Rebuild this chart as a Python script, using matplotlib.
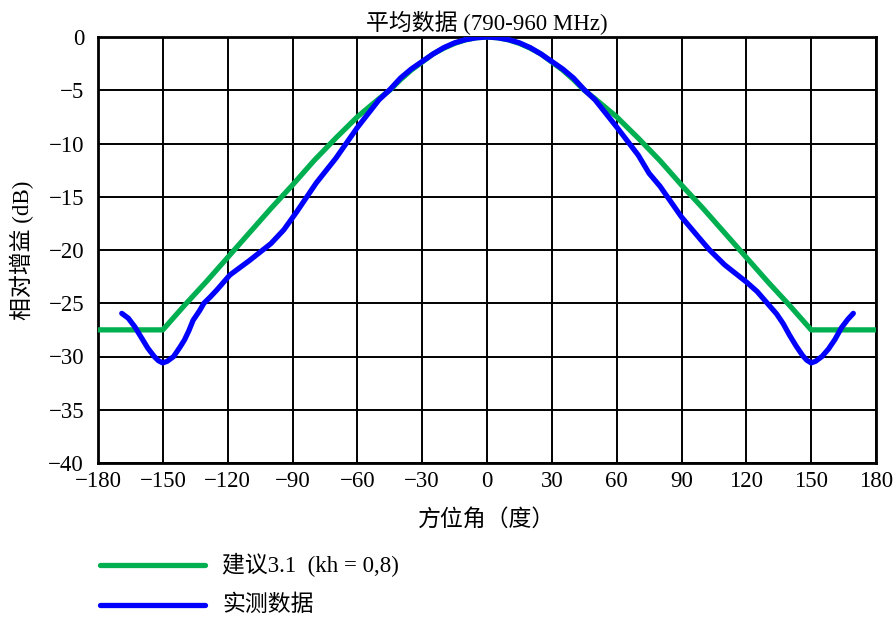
import matplotlib
matplotlib.use("Agg")
import matplotlib.pyplot as plt
from matplotlib.lines import Line2D

plt.rcParams['font.family'] = ['Liberation Serif', 'Noto Sans CJK SC', 'DejaVu Sans']
plt.rcParams['axes.unicode_minus'] = True

# Recommendation 3.1 (kh = 0.8) curve
rec_angles = [-180, -150, -140, -130, -120, -110, -100, -90, -80, -70, -60, -50, -45, -40, -35, -30, -25, -20, -15, -10, -5, 0,
              5, 10, 15, 20, 25, 30, 35, 40, 45, 50, 60, 70, 80, 90, 100, 110, 120, 130, 140, 150, 180]
rec_gain = [-27.5, -27.5, -25.2, -23.0, -20.7, -18.4, -16.1, -13.9, -11.6, -9.5, -7.5, -5.8, -5.0, -4.0, -3.1, -2.35, -1.6,
            -1.05, -0.6, -0.27, -0.07, 0.0,
            -0.07, -0.27, -0.6, -1.05, -1.6, -2.35, -3.1, -4.0, -5.0, -5.8, -7.5, -9.5, -11.6, -13.9, -16.1, -18.4, -20.7,
            -23.0, -25.2, -27.5, -27.5]

# Measured data
meas_angles = [-169, -166, -163, -160, -157, -154, -152, -150, -148, -145, -142, -140, -138, -136, -133, -131, -128, -125,
               -119, -114, -110, -105, -100, -94, -88, -79, -70, -60, -50, -45, -40, -35, -30, -25, -20, -15, -10, -5, 0,
               5, 10, 15, 20, 25, 30, 35, 40, 45, 50, 60, 70, 75, 80, 90, 100, 103, 110, 115, 120, 125, 128, 131, 134, 137,
               140, 143, 146, 148, 150, 152, 155, 158, 161, 164, 167, 169.5]
meas_gain = [-25.95, -26.4, -27.2, -28.2, -29.2, -30.0, -30.4, -30.6, -30.45, -30.0, -29.1, -28.45, -27.6, -26.6, -25.7,
             -25.0, -24.4, -23.75, -22.35, -21.6, -21.0, -20.2, -19.4, -18.1, -16.4, -13.7, -11.4, -8.5, -5.9, -4.95,
             -3.85, -3.0, -2.3, -1.6, -1.0, -0.55, -0.25, -0.07, 0.0,
             -0.07, -0.25, -0.55, -1.0, -1.6, -2.3, -3.0, -3.85, -4.95, -5.9, -8.45, -11.1, -12.8, -14.0, -16.9, -19.3,
             -20.0, -21.4, -22.2, -23.0, -23.9, -24.6, -25.3, -26.0, -26.9, -28.0, -29.0, -29.9, -30.35, -30.6, -30.45,
             -30.0, -29.3, -28.4, -27.3, -26.5, -25.95]

x_ticks = list(range(-180, 181, 30))
y_ticks = list(range(-40, 1, 5))

title = "平均数据 (790-960 MHz)"
xlabel = "方位角（度）"
ylabel = "相对增益 (dB)"
legend_labels = ["建议3.1  (kh = 0,8)", "实测数据"]

green = "#00B050"
blue = "#0000FF"
FS = 16.5

fig = plt.figure(figsize=(8.96, 6.24), dpi=100)
ax = fig.add_axes([98/896, 1 - 463/624, 778/896, 426/624])

ax.plot(rec_angles, rec_gain, color=green, lw=3.8, solid_capstyle='round', solid_joinstyle='round', zorder=3)
ax.plot(meas_angles, meas_gain, color=blue, lw=3.8, solid_capstyle='round', solid_joinstyle='round', zorder=4)

ax.set_xlim(-180, 180)
ax.set_ylim(-40, 0)
ax.set_xticks(x_ticks)
ax.set_yticks(y_ticks)
ax.set_xticklabels([f"{v}".replace('-', '\u2212') for v in x_ticks])
ax.set_yticklabels([f"{v}".replace('-', '\u2212') for v in y_ticks])
ax.grid(True, color='black', lw=1.4)
ax.tick_params(axis='x', length=0, labelsize=FS, pad=6)
ax.tick_params(axis='y', length=0, labelsize=FS, pad=10)
for s in ax.spines.values():
    s.set_linewidth(2.0)
    s.set_color('black')

ax.set_title(title, fontsize=FS, pad=5)
ax.set_xlabel(xlabel, fontsize=FS, labelpad=12)
ax.set_ylabel(ylabel, fontsize=FS, labelpad=10)

# legend drawn below the axes
leg_y = [565, 605]
leg_colors = [green, blue]
for yy, col, lab in zip(leg_y, leg_colors, legend_labels):
    yf = 1 - yy / 624
    fig.add_artist(Line2D([100/896, 205/896], [yf, yf], transform=fig.transFigure,
                          color=col, lw=3.8, solid_capstyle='round'))
    fig.text(222/896, yf, lab, fontsize=FS, va='center', ha='left')

fig.savefig("out.png", dpi=100)
